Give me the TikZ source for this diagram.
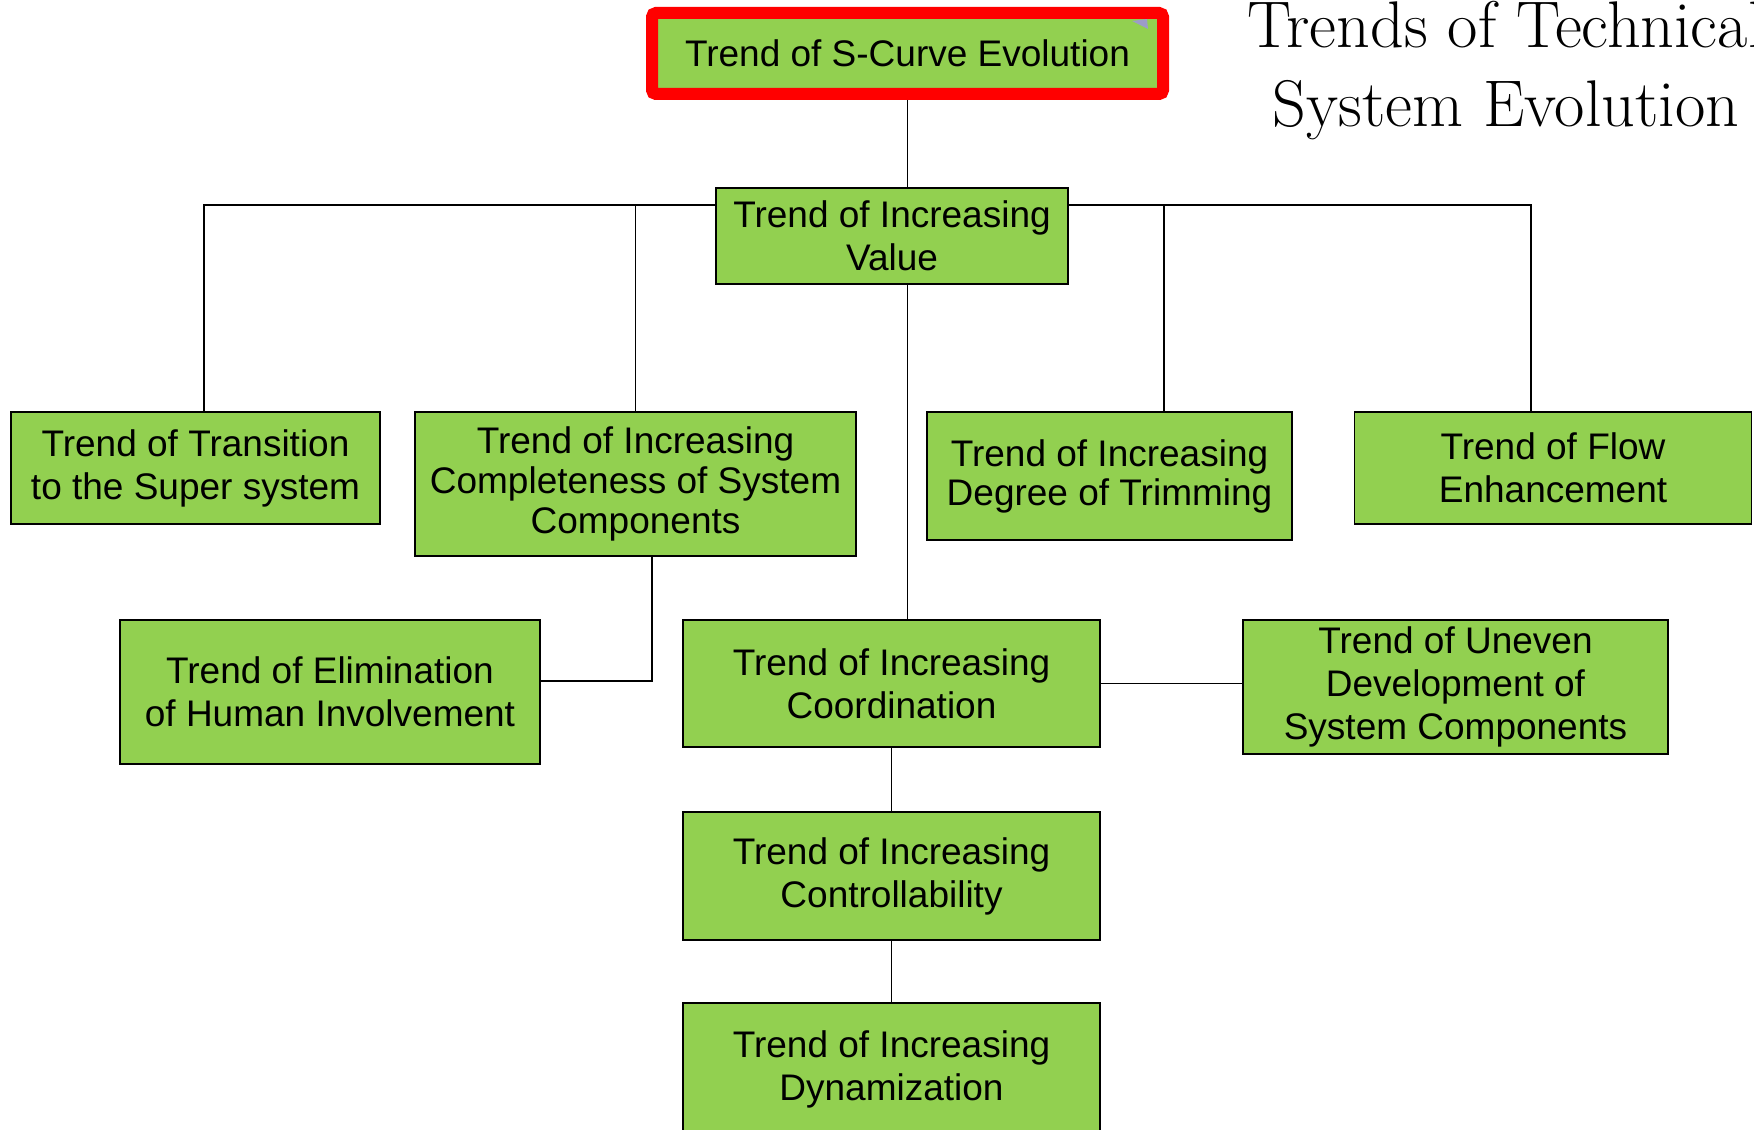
\documentclass[tikz,border=0pt]{standalone}
\usepackage{fontspec}
\newfontfamily\boxfont{Liberation Sans}
\definecolor{trendgreen}{HTML}{92D050}
\tikzset{
  trend/.style={draw, line width=0.75pt, fill=trendgreen, align=center, inner sep=2pt,
    font=\boxfont\fontsize{18.5}{21.5}\selectfont},
  link/.style={line width=0.75pt}
}
\begin{document}
\begin{tikzpicture}[x=0.5pt,y=-0.5pt]
\useasboundingbox (0,0) rectangle (1754,1129);
\node (scurve) at (907.5,53.5) [trend, draw=red, line width=6pt, rounded corners=2pt, minimum width=255.5pt, minimum height=40.5pt] {Trend of S-Curve Evolution};
\fill[gray!70!blue!60] (1132,21) -- (1147,19) -- (1148,29) -- cycle;
\node (title) at (1506,71) [align=center, inner sep=0pt, font=\fontsize{33}{39.5}\selectfont] {Trends of Technical\\System Evolution};
\node (value) at (892,236) [trend, minimum width=176pt, minimum height=48pt] {Trend of Increasing\\Value};
\node (transition) at (195.5,468) [trend, minimum width=184.5pt, minimum height=56pt] {Trend of Transition\\to the Super system};
\node (compl) at (635.5,484) [trend, minimum width=220.5pt, minimum height=72pt, font=\boxfont\fontsize{18.5}{20}\selectfont] {Trend of Increasing\\Completeness of System\\Components};
\node (trim) at (1109.5,476) [trend, minimum width=182.5pt, minimum height=64pt, font=\boxfont\fontsize{18.5}{19.5}\selectfont] {Trend of Increasing\\Degree of Trimming};
\node (flow) at (1553,468) [trend, minimum width=198.5pt, minimum height=56pt] {Trend of Flow\\Enhancement};
\node (elim) at (330,692) [trend, minimum width=210pt, minimum height=72pt] {Trend of Elimination\\of Human Involvement};
\node (coord) at (891.5,683.5) [trend, minimum width=208.5pt, minimum height=63.5pt] {Trend of Increasing\\Coordination};
\node (uneven) at (1455.5,687) [trend, minimum width=212.5pt, minimum height=67pt] {Trend of Uneven\\Development of\\System Components};
\node (ctrl) at (891.5,876) [trend, minimum width=208.5pt, minimum height=64pt] {Trend of Increasing\\Controllability};
\node (dyn) at (891.5,1069) [trend, minimum width=208.5pt, minimum height=66pt] {Trend of Increasing\\Dynamization};
\coordinate (lefttap) at (204,205);
\coordinate (righttap) at (1531,205);
\coordinate (trimtap) at (1164,205);
\coordinate (elimtap) at (652,681);
\draw[link] (scurve.south) -- (scurve.south |- value.north);
\draw[link] (value.west |- lefttap) -- (lefttap) -- (lefttap |- transition.north);
\draw[link] (compl.north |- lefttap) -- (compl.north);
\draw[link] (value.east |- righttap) -- (righttap) -- (righttap |- flow.north);
\draw[link] (trimtap) -- (trimtap |- trim.north);
\draw[link] (scurve.south |- value.south) -- (scurve.south |- coord.north);
\draw[link] (elimtap |- compl.south) -- (elimtap) -- (elim.east |- elimtap);
\draw[link] (coord.east) -- (coord.east -| uneven.west);
\draw[link] (coord.south) -- (ctrl.north);
\draw[link] (ctrl.south) -- (dyn.north);
\end{tikzpicture}
\end{document}
